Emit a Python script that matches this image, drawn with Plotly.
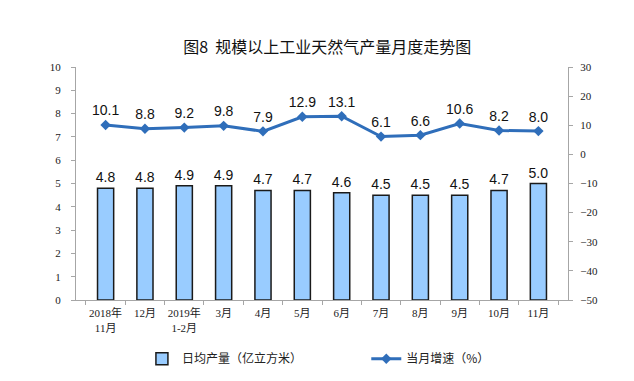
import plotly.graph_objects as go

categories = ["2018年<br>11月", "12月", "2019年<br>1-2月", "3月", "4月", "5月", "6月", "7月", "8月", "9月", "10月", "11月"]
daily_output = [4.8, 4.8, 4.9, 4.9, 4.7, 4.7, 4.6, 4.5, 4.5, 4.5, 4.7, 5.0]
growth = [10.1, 8.8, 9.2, 9.8, 7.9, 12.9, 13.1, 6.1, 6.6, 10.6, 8.2, 8.0]
left_ticks = list(range(0, 11))
right_ticks = list(range(-50, 31, 10))

serif = "Liberation Serif, Times New Roman, Noto Sans CJK SC, serif"
sans = "Liberation Sans, Arial, Noto Sans CJK SC, sans-serif"
cjk = "Noto Sans CJK SC, sans-serif"

W, H = 626, 373

fig = go.Figure()
fig.add_trace(go.Bar(
    x=categories, y=daily_output, name="日均产量（亿立方米）",
    marker=dict(color="#99CCFF", line=dict(color="#1a1a1a", width=1.5)),
    width=0.41,
    text=[f"{v:.1f}" for v in daily_output], textposition="outside",
    constraintext="none",
    textfont=dict(family=sans, size=14, color="#111"),
    cliponaxis=False, legend="legend",
))
fig.add_trace(go.Scatter(
    x=categories, y=growth, name="当月增速（%）", yaxis="y2",
    mode="lines+markers+text",
    line=dict(color="#2F6EBA", width=3),
    marker=dict(symbol="diamond", size=8, color="#2F6EBA"),
    text=[f"{v:.1f}" for v in growth], textposition="top center",
    textfont=dict(family=sans, size=14, color="#111"),
    cliponaxis=False, legend="legend2",
))

fig.update_layout(
    width=W, height=H,
    margin=dict(l=68, r=66, t=59, b=81, autoexpand=False),
    paper_bgcolor="white", plot_bgcolor="white",
    title=dict(text="图8  规模以上工业天然气产量月度走势图", x=0.51, xanchor="center",
               y=1 - 39 / H, yref="container", yanchor="middle",
               font=dict(family=cjk, size=16, color="#111")),
    xaxis=dict(showline=True, linecolor="#A6A6A6", linewidth=1,
               ticks="outside", ticklen=4, tickcolor="#A6A6A6",
               tickson="boundaries", tickangle=0, automargin=False,
               ticklabelstandoff=3,
               tickfont=dict(family=serif, size=11, color="#222")),
    yaxis=dict(range=[0, 10], tickvals=left_ticks, showgrid=False,
               showline=True, linecolor="#A6A6A6", linewidth=1, automargin=False,
               ticks="outside", ticklen=4, tickcolor="#A6A6A6", zeroline=False,
               ticklabelstandoff=8,
               tickfont=dict(family=serif, size=11, color="#222")),
    yaxis2=dict(range=[-50, 30], tickvals=right_ticks, overlaying="y", side="right",
                showgrid=False, showline=True, linecolor="#A6A6A6", linewidth=1,
                automargin=False, ticklabelstandoff=5,
                ticks="outside", ticklen=4, tickcolor="#A6A6A6", zeroline=False,
                tickfont=dict(family=serif, size=11, color="#222")),
    legend=dict(x=0.134, xanchor="left", y=-0.19, yanchor="top",
                font=dict(family=cjk, size=12, color="#222"), itemwidth=30),
    legend2=dict(x=0.59, xanchor="left", y=-0.19, yanchor="top",
                 font=dict(family=cjk, size=12, color="#222"), itemwidth=30),
    showlegend=True,
    bargap=0.5,
)

fig.write_html("out.html")
